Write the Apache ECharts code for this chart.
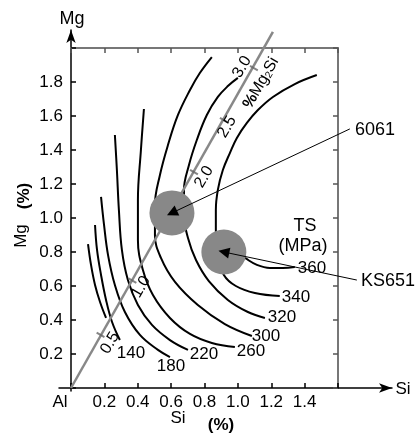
<!DOCTYPE html>
<html>
<head>
<meta charset="utf-8">
<script src="https://cdn.jsdelivr.net/npm/echarts@6/dist/echarts.min.js"></script>
<style>
  html, body { margin: 0; padding: 0; background: #fff; }
  #chart { width: 418px; height: 435px; }
</style>
</head>
<body>
<div id="chart"></div>
<script>
  // tick labels shown on the axes
  const siTicks = [0.2, 0.4, 0.6, 0.8, 1.0, 1.2, 1.4]
  const mgTicks = [0.2, 0.4, 0.6, 0.8, 1.0, 1.2, 1.4, 1.6, 1.8]

  // tensile strength contours (Si %, Mg %)
  const tsNames = ['', '140', '180', '220', '260', '300', '320', '340', '360']
  const ts0 = [[0.102, 0.847], [0.120, 0.724], [0.144, 0.606], [0.174, 0.506], [0.210, 0.412]]
  const ts140 = [[0.144, 0.959], [0.156, 0.812], [0.180, 0.665], [0.210, 0.518], [0.246, 0.388], [0.293, 0.282]]
  const ts180 = [[0.180, 1.124], [0.198, 0.959], [0.222, 0.782], [0.263, 0.606], [0.323, 0.447], [0.413, 0.312], [0.521, 0.224], [0.593, 0.182]]
  const ts220 = [[0.263, 1.488], [0.275, 1.282], [0.287, 1.047], [0.305, 0.812], [0.341, 0.635], [0.401, 0.488], [0.485, 0.371], [0.593, 0.282], [0.701, 0.224]]
  const ts260 = [[0.437, 1.641], [0.419, 1.400], [0.401, 1.106], [0.401, 0.871], [0.431, 0.694], [0.491, 0.547], [0.593, 0.412], [0.713, 0.318], [0.844, 0.265], [0.982, 0.241]]
  const ts300 = [[0.844, 1.947], [0.772, 1.853], [0.713, 1.753], [0.641, 1.606], [0.581, 1.429], [0.533, 1.253], [0.503, 1.076], [0.503, 0.900], [0.539, 0.765], [0.623, 0.624], [0.760, 0.488], [0.922, 0.376], [1.084, 0.306]]
  const ts320 = [[1.000, 1.824], [0.940, 1.776], [0.880, 1.712], [0.814, 1.606], [0.754, 1.459], [0.707, 1.312], [0.677, 1.165], [0.677, 1.018], [0.701, 0.882], [0.749, 0.753], [0.826, 0.629], [0.940, 0.518], [1.060, 0.447], [1.162, 0.412]]
  const ts340 = [[1.473, 1.841], [1.341, 1.788], [1.210, 1.712], [1.120, 1.635], [1.054, 1.559], [0.994, 1.471], [0.952, 1.382], [0.910, 1.282], [0.880, 1.165], [0.868, 1.047], [0.868, 0.929], [0.880, 0.782], [0.916, 0.665], [0.988, 0.600], [1.102, 0.559], [1.251, 0.541]]
  const ts360 = [[0.964, 0.812], [1.042, 0.765], [1.114, 0.724], [1.192, 0.706], [1.269, 0.706], [1.341, 0.712]]
  const contours = [ts0, ts140, ts180, ts220, ts260, ts300, ts320, ts340, ts360]

  // stoichiometric Mg2Si line and its % Mg2Si ticks
  const mg2siLine = [[0, 0], [1.21, 2.095]]
  const mg2siNames = ['0.5', '1.0', '2.0', '2.5', '3.0']
  const mg2siTicks = [[0.177, 0.312], [0.368, 0.632], [0.737, 1.270], [0.916, 1.576], [1.096, 1.882]]

  // alloys
  const alloyNames = ['6061', 'KS651']
  const alloys = [[0.605, 1.030], [0.916, 0.800]]
  const alloyLabelPts = [[1.671, 1.524], [1.713, 0.635]]

  const FONT = 'Liberation Sans, Arial, Helvetica, sans-serif'

  const chart = echarts.init(document.getElementById('chart'))

  const contourSeries = contours.map((pts, i) => ({
    name: tsNames[i] || 'ts',
    type: 'line',
    xAxisIndex: 1,
    yAxisIndex: 1,
    data: pts,
    smooth: 0.4,
    symbol: 'none',
    silent: true,
    lineStyle: { color: '#000', width: 2 },
    z: 2
  }))

  function txt(x, y, text, size, extra) {
    extra = extra || {}
    return {
      type: 'text',
      x: x,
      y: y,
      rotation: extra.rot || 0,
      z: 20,
      style: {
        text: text,
        fontSize: size,
        fontFamily: FONT,
        fontWeight: extra.bold ? 'bold' : 'normal',
        fill: '#000',
        align: 'center',
        verticalAlign: 'middle',
        rich: extra.rich
      }
    }
  }

  // text positions (pixel)
  const contourLabelPos = [null, [131, 353], [171, 366], [204, 354], [251, 351], [266, 336], [282, 317], [296, 297], [312, 268]]
  const mg2siLabelPos = [[110, 343], [141, 287], [204, 177], [227, 127], [242, 67]]

  const graphic = []
  contourLabelPos.forEach((p, i) => {
    if (p) graphic.push(txt(p[0], p[1], tsNames[i], 17))
  })
  mg2siLabelPos.forEach((p, i) => {
    graphic.push(txt(p[0], p[1], mg2siNames[i], 16, { rot: Math.PI / 3 }))
  })
  graphic.push(txt(261, 83, '{p|%}Mg{s|2}Si', 16, {
    rot: Math.PI / 3,
    rich: {
      p: { fontSize: 16, fontWeight: 'bold', fontFamily: FONT },
      s: { fontSize: 10, fontFamily: FONT, padding: [6, 0, 0, 0] }
    }
  }))
  graphic.push(txt(375, 130, alloyNames[0], 18))
  graphic.push(txt(388, 281, alloyNames[1], 18))
  graphic.push(txt(305, 226, 'TS', 18))
  graphic.push(txt(303, 246, '(MPa)', 18))
  graphic.push(txt(60, 402, 'Al', 17))
  graphic.push(txt(72, 19, 'Mg', 18))
  graphic.push(txt(403, 389, 'Si', 17))
  graphic.push(txt(178, 418, 'Si', 17))
  graphic.push(txt(221, 425, '(%)', 17, { bold: true }))
  graphic.push(txt(21, 236, 'Mg', 17, { rot: Math.PI / 2 }))
  graphic.push(txt(24, 196, '(%)', 17, { rot: Math.PI / 2, bold: true }))

  const labelText = { fontSize: 17, color: '#000', fontFamily: FONT }

  chart.setOption({
    backgroundColor: '#fff',
    animation: false,
    grid: [
      // long axes with arrows
      { left: 59, top: 30, width: 333, height: 361, outerBoundsMode: 'none' },
      // plot box
      { left: 71, top: 48, width: 267, height: 340, outerBoundsMode: 'none' }
    ],
    xAxis: [{
      gridIndex: 0, type: 'value', min: -0.0719, max: 1.9222,
      axisLine: { onZero: true, lineStyle: { color: '#000', width: 1.5 }, symbol: ['none', 'arrow'], symbolSize: [7, 13] },
      axisTick: { show: false }, axisLabel: { show: false }, splitLine: { show: false }
    }, {
      gridIndex: 1, type: 'value', min: 0, max: 1.6, interval: 0.2, position: 'bottom',
      axisLine: { show: false },
      axisTick: { inside: true, length: 5, lineStyle: { color: '#000', width: 1.5 } },
      axisLabel: Object.assign({ margin: 6, formatter: v => siTicks.some(t => Math.abs(t - v) < 1e-6) ? v.toFixed(1) : '' }, labelText),
      splitLine: { show: false }
    }, {
      gridIndex: 1, type: 'value', min: 0, max: 1.6, interval: 0.2, position: 'top',
      axisLine: { onZero: false, lineStyle: { color: '#777', width: 2 } },
      axisTick: { inside: true, length: 5, lineStyle: { color: '#555', width: 1.5 } },
      axisLabel: { show: false }, splitLine: { show: false }
    }],
    yAxis: [{
      gridIndex: 0, type: 'value', min: -0.01765, max: 2.1059,
      axisLine: { onZero: true, lineStyle: { color: '#000', width: 1.5 }, symbol: ['none', 'arrow'], symbolSize: [7, 13] },
      axisTick: { show: false }, axisLabel: { show: false }, splitLine: { show: false }
    }, {
      gridIndex: 1, type: 'value', min: 0, max: 2.0, interval: 0.2, position: 'left',
      axisLine: { show: false },
      axisTick: { inside: true, length: 5, lineStyle: { color: '#000', width: 1.5 } },
      axisLabel: Object.assign({ margin: 8, formatter: v => mgTicks.some(t => Math.abs(t - v) < 1e-6) ? v.toFixed(1) : '' }, labelText),
      splitLine: { show: false }
    }, {
      gridIndex: 1, type: 'value', min: 0, max: 2.0, interval: 0.2, position: 'right',
      axisLine: { onZero: false, lineStyle: { color: '#777', width: 2 } },
      axisTick: { inside: true, length: 5, lineStyle: { color: '#555', width: 1.5 } },
      axisLabel: { show: false }, splitLine: { show: false }
    }],
    series: contourSeries.concat([
      {
        name: 'Mg2Si',
        type: 'line',
        xAxisIndex: 1, yAxisIndex: 1,
        data: mg2siLine,
        symbol: 'none',
        clip: false,
        lineStyle: { color: '#888', width: 2.5 },
        z: 3
      },
      {
        name: 'Mg2Si ticks',
        type: 'scatter',
        xAxisIndex: 1, yAxisIndex: 1,
        data: mg2siTicks,
        symbol: 'rect',
        symbolSize: [2, 9],
        symbolRotate: 60,
        clip: false,
        itemStyle: { color: '#666' },
        z: 3
      },
      {
        name: 'alloys',
        type: 'scatter',
        xAxisIndex: 1, yAxisIndex: 1,
        data: alloys,
        symbolSize: 45,
        itemStyle: { color: '#888', opacity: 1 },
        z: 4
      },
      {
        name: 'arrows',
        type: 'lines',
        coordinateSystem: 'cartesian2d',
        xAxisIndex: 1, yAxisIndex: 1,
        clip: false,
        data: alloys.map((a, i) => ({ coords: [alloyLabelPts[i], a] })),
        symbol: ['none', 'triangle'],
        symbolSize: [6, 11],
        lineStyle: { color: '#000', width: 1, opacity: 1, curveness: 0 },
        z: 5
      }
    ]),
    graphic: graphic
  })
</script>
</body>
</html>
